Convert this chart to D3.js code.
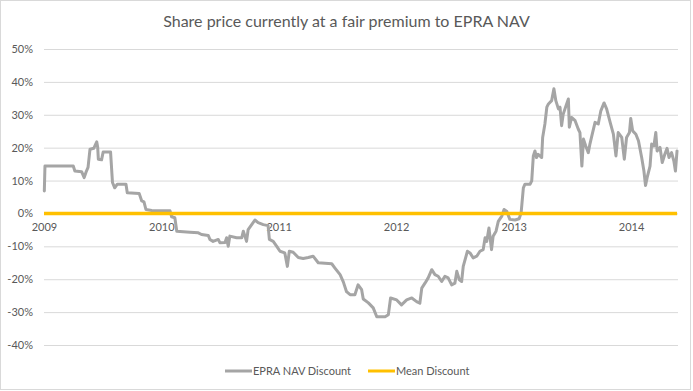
<!DOCTYPE html>
<html>
<head>
<meta charset="utf-8">
<script src="https://cdn.jsdelivr.net/npm/d3@7"></script>
<style>
  body { margin: 0; background: #fff; }
  text { font-family: Lato, "Open Sans", sans-serif; fill: #595959; }
</style>
</head>
<body>
<div id="chart"></div>
<script>

// EPRA NAV discount (%)
const navDates = [
  '2009-01-02','2009-01-04','2009-04-02','2009-04-07','2009-04-28','2009-05-06','2009-05-13','2009-05-18','2009-05-24','2009-06-05',
  '2009-06-08','2009-06-14','2009-06-17','2009-06-19','2009-06-29','2009-07-04','2009-07-27','2009-08-02','2009-08-09','2009-08-17',
  '2009-09-13','2009-09-17','2009-10-24','2009-11-01','2009-11-08','2009-11-14','2009-12-02',
  '2010-01-28','2010-02-02','2010-02-12','2010-02-18','2010-03-31','2010-04-26','2010-05-06','2010-05-27','2010-06-01','2010-06-11',
  '2010-06-27','2010-07-02','2010-07-18','2010-07-23','2010-07-28','2010-08-02','2010-08-23','2010-09-08','2010-09-13','2010-09-18',
  '2010-09-23','2010-09-28','2010-10-09','2010-10-19','2010-10-29','2010-11-14','2010-11-29','2010-12-03','2010-12-15','2010-12-26',
  '2011-01-05','2011-01-20','2011-01-28','2011-02-03','2011-02-15','2011-03-03','2011-03-18','2011-04-03','2011-04-18','2011-05-04',
  '2011-06-15','2011-06-25','2011-07-11','2011-07-21','2011-07-31','2011-08-11','2011-08-26','2011-09-05','2011-09-16','2011-09-21',
  '2011-10-07','2011-10-22','2011-11-02','2011-11-28','2011-12-08','2011-12-15',
  '2012-01-03','2012-01-18','2012-02-03','2012-02-19','2012-03-05','2012-03-15','2012-03-21','2012-03-31','2012-04-10','2012-04-21',
  '2012-05-01','2012-05-11','2012-05-22','2012-06-01','2012-06-11','2012-06-22','2012-07-02','2012-07-08','2012-07-16','2012-07-23',
  '2012-07-28','2012-08-10','2012-08-18','2012-08-28','2012-09-08','2012-09-18','2012-09-28','2012-10-04','2012-10-09','2012-10-16',
  '2012-10-24','2012-10-29','2012-11-07','2012-11-14','2012-11-25','2012-12-02','2012-12-10','2012-12-20',
  '2013-01-05','2013-01-18','2013-01-24','2013-01-31','2013-02-05','2013-02-21','2013-02-26','2013-03-03','2013-03-08','2013-03-13',
  '2013-03-18','2013-03-29','2013-04-01','2013-04-08','2013-04-14','2013-04-19','2013-04-29','2013-05-06','2013-05-12','2013-05-20',
  '2013-05-25','2013-05-30','2013-06-04','2013-06-13','2013-06-20','2013-06-23','2013-06-30','2013-07-11','2013-07-21','2013-07-26',
  '2013-08-01','2013-08-06','2013-08-13','2013-08-21','2013-08-26','2013-09-01','2013-09-11','2013-09-21','2013-09-29','2013-10-09',
  '2013-10-17','2013-10-28','2013-11-07','2013-11-15','2013-11-22','2013-12-03','2013-12-11','2013-12-18','2013-12-27','2013-12-31',
  '2014-01-06','2014-01-16','2014-01-24','2014-02-03','2014-02-10','2014-02-15','2014-02-20','2014-03-01','2014-03-06','2014-03-13',
  '2014-03-19','2014-03-23','2014-04-01','2014-04-08','2014-04-16','2014-04-23','2014-04-29','2014-05-07','2014-05-14','2014-05-19',
  '2014-05-24'
];

const navDiscount = [
  6.8, 14.4, 14.4, 12.9, 12.7, 10.9, 12.9, 14.0, 19.5, 19.8,
  20.5, 21.8, 20.1, 16.5, 16.3, 18.7, 18.7, 9.4, 7.8, 8.9,
  8.9, 6.3, 6.1, 3.8, 3.5, 1.2, 0.9,
  0.8, -1.0, -1.3, -5.4, -5.7, -5.9, -6.4, -6.7, -7.9, -8.5,
  -7.9, -8.9, -8.8, -7.4, -10.0, -6.9, -7.4, -7.4, -5.4, -6.9,
  -8.5, -4.9, -3.4, -2.0, -2.8, -3.4, -3.7, -7.9, -8.5, -10.0,
  -11.5, -12.0, -16.1, -11.5, -11.8, -13.4, -13.7, -13.4, -13.0, -15.0,
  -15.3, -16.6, -18.6, -20.8, -23.8, -24.7, -24.7, -21.7, -23.2, -26.0,
  -27.2, -28.7, -31.4, -31.4, -30.8, -25.7,
  -26.3, -27.8, -26.3, -25.7, -26.8, -27.3, -22.7, -21.2, -19.6, -17.1,
  -18.6, -19.1, -20.7, -19.1, -19.6, -21.7, -21.2, -17.6, -20.2, -20.7,
  -16.1, -11.5, -12.0, -13.5, -13.0, -11.5, -11.0, -7.4, -8.5, -4.4,
  -11.0, -6.9, -5.4, -2.4, -0.8, 1.2, 0.7, -1.8,
  -2.0, -1.6, 0.2, 7.8, 8.9, 8.9, 9.9, 17.5, 19.0, 17.0,
  18.0, 17.0, 23.1, 27.2, 32.3, 33.3, 34.3, 37.9, 34.3, 31.8,
  32.3, 26.7, 30.2, 32.8, 34.8, 26.2, 29.2, 28.2, 25.6, 24.6,
  14.4, 22.6, 20.5, 18.5, 21.1, 23.6, 27.7, 27.2, 31.2, 33.6,
  31.8, 27.7, 24.1, 17.5, 24.6, 23.1, 16.5, 23.1, 24.6, 28.9,
  25.1, 24.1, 22.1, 17.0, 12.9, 8.5, 10.9, 14.4, 21.1, 20.5,
  24.6, 19.0, 20.1, 15.5, 18.0, 19.8, 17.0, 18.5, 16.0, 12.9,
  19.0
];

// mean discount line
const meanDates = ['2009-01-01', '2014-05-24'];
const meanDiscount = [0, 0];

const yTicks = [-40, -30, -20, -10, 0, 10, 20, 30, 40, 50];
const xTickYears = ['2009', '2010', '2011', '2012', '2013', '2014'];

const seriesNames = ['EPRA NAV Discount', 'Mean Discount'];
const seriesColors = ['#a5a5a5', '#ffc000'];

const width = 693;
const height = 391;
const margin = { top: 49, right: 15, bottom: 46, left: 44 };
const innerWidth = width - margin.left - margin.right;
const innerHeight = height - margin.top - margin.bottom;

const parseDate = d3.timeParse('%Y-%m-%d');

const navData = navDates.map((d, i) => ({ date: parseDate(d), value: navDiscount[i] }));
const meanData = meanDates.map((d, i) => ({ date: parseDate(d), value: meanDiscount[i] }));

const xScale = d3.scaleTime()
  .domain([parseDate('2009-01-01'), parseDate('2014-05-27')])
  .range([0, innerWidth]);

const yScale = d3.scaleLinear()
  .domain([-40, 50])
  .range([innerHeight, 0]);

const svg = d3.select('#chart')
  .append('svg')
  .attr('width', width)
  .attr('height', height);

// chart area border
svg.append('rect')
  .attr('x', 0.5)
  .attr('y', 0.5)
  .attr('width', width - 3)
  .attr('height', height - 2)
  .attr('fill', '#fff')
  .attr('stroke', '#d9d9d9');

svg.append('text')
  .attr('x', width / 2)
  .attr('y', 27)
  .attr('text-anchor', 'middle')
  .style('font-size', '16px')
  .text('Share price currently at a fair premium to EPRA NAV');

const g = svg.append('g')
  .attr('transform', `translate(${margin.left},${margin.top})`);

const yAxis = d3.axisLeft(yScale)
  .tickValues(yTicks)
  .tickFormat(d => d + '%')
  .tickSize(-innerWidth)
  .tickPadding(11);

const yAxisG = g.append('g').call(yAxis);
yAxisG.select('.domain').remove();
yAxisG.selectAll('line').attr('stroke', '#d9d9d9');
yAxisG.selectAll('text')
  .style('font-size', '11px')
  .style('font-family', 'Lato, sans-serif')
  .attr('fill', '#595959');

const xAxis = d3.axisBottom(xScale)
  .tickValues(xTickYears.map(y => parseDate(y + '-01-01')))
  .tickFormat(d3.timeFormat('%Y'))
  .tickSize(0)
  .tickPadding(10);

const xAxisG = g.append('g')
  .attr('transform', `translate(0,${yScale(0)})`)
  .call(xAxis);
xAxisG.select('.domain').remove();
xAxisG.selectAll('text')
  .style('font-size', '11px')
  .style('font-family', 'Lato, sans-serif')
  .attr('fill', '#595959');

const line = d3.line()
  .x(d => xScale(d.date))
  .y(d => yScale(d.value));

g.append('path')
  .datum(navData)
  .attr('fill', 'none')
  .attr('stroke', seriesColors[0])
  .attr('stroke-width', 3)
  .attr('stroke-linejoin', 'round')
  .attr('stroke-linecap', 'round')
  .attr('d', line);

g.append('path')
  .datum(meanData)
  .attr('fill', 'none')
  .attr('stroke', seriesColors[1])
  .attr('stroke-width', 3.5)
  .attr('d', line);

// legend
const legendX = [225, 368];
const legend = svg.append('g')
  .attr('transform', 'translate(0,371)');

const items = legend.selectAll('g')
  .data(seriesNames)
  .enter().append('g')
  .attr('transform', (d, i) => `translate(${legendX[i]},0)`);

items.append('line')
  .attr('x1', 0)
  .attr('x2', 27)
  .attr('stroke', (d, i) => seriesColors[i])
  .attr('stroke-width', 3);

items.append('text')
  .attr('x', 28)
  .attr('dy', '0.35em')
  .style('font-size', '11px')
  .text(d => d);

</script>
</body>
</html>
